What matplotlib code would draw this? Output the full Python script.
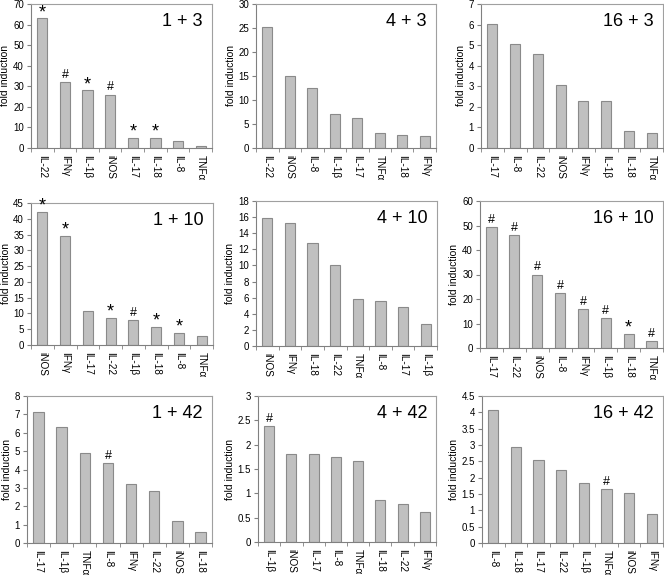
import numpy as np
import matplotlib
matplotlib.use("Agg")
from matplotlib import pyplot as plt

plt.rcParams['font.family'] = ['Liberation Sans', 'DejaVu Sans']

G = "IFN\u03b3"
B = "IL-1\u03b2"
A = "TNF\u03b1"

# panel 1 + 3
p1_names = ["IL-22", G, B, "iNOS", "IL-17", "IL-18", "IL-8", A]
p1_vals = [63, 32, 28, 26, 5, 5, 3.5, 1]
p1_marks = ["*", "#", "*", "#", "*", "*", "", ""]
# panel 4 + 3
p2_names = ["IL-22", "iNOS", "IL-8", B, "IL-17", A, "IL-18", G]
p2_vals = [25.3, 15, 12.5, 7.1, 6.3, 3.1, 2.8, 2.5]
p2_marks = [""] * 8
# panel 16 + 3
p3_names = ["IL-17", "IL-8", "IL-22", "iNOS", G, B, "IL-18", A]
p3_vals = [6.05, 5.05, 4.55, 3.05, 2.3, 2.3, 0.85, 0.75]
p3_marks = [""] * 8
# panel 1 + 10
p4_names = ["iNOS", G, "IL-17", "IL-22", B, "IL-18", "IL-8", A]
p4_vals = [42.3, 34.5, 10.8, 8.7, 8.0, 5.6, 3.8, 2.8]
p4_marks = ["*", "*", "", "*", "#", "*", "*", ""]
# panel 4 + 10
p5_names = ["iNOS", G, "IL-18", "IL-22", A, "IL-8", "IL-17", B]
p5_vals = [15.9, 15.3, 12.8, 10.0, 5.8, 5.6, 4.9, 2.7]
p5_marks = [""] * 8
# panel 16 + 10
p6_names = ["IL-17", "IL-22", "iNOS", "IL-8", G, B, "IL-18", A]
p6_vals = [49.5, 46, 30, 22.3, 16, 12.2, 5.6, 2.8]
p6_marks = ["#", "#", "#", "#", "#", "#", "*", "#"]
# panel 1 + 42
p7_names = ["IL-17", B, A, "IL-8", G, "IL-22", "iNOS", "IL-18"]
p7_vals = [7.15, 6.3, 4.9, 4.35, 3.2, 2.85, 1.2, 0.6]
p7_marks = ["", "", "", "#", "", "", "", ""]
# panel 4 + 42
p8_names = [B, "iNOS", "IL-17", "IL-8", A, "IL-18", "IL-22", G]
p8_vals = [2.38, 1.8, 1.8, 1.75, 1.67, 0.87, 0.78, 0.62]
p8_marks = ["#", "", "", "", "", "", "", ""]
# panel 16 + 42
p9_names = ["IL-8", "IL-18", "IL-17", "IL-22", B, A, "iNOS", G]
p9_vals = [4.07, 2.95, 2.53, 2.25, 1.83, 1.65, 1.52, 0.9]
p9_marks = ["", "", "", "", "", "#", "", ""]

panels = [
    ("1 + 3", p1_names, p1_vals, p1_marks, 70, 10, (31, 4, 212, 148)),
    ("4 + 3", p2_names, p2_vals, p2_marks, 30, 5, (256, 4, 436, 148)),
    ("16 + 3", p3_names, p3_vals, p3_marks, 7, 1, (481, 4, 663, 148)),
    ("1 + 10", p4_names, p4_vals, p4_marks, 45, 5, (31, 203, 213, 345)),
    ("4 + 10", p5_names, p5_vals, p5_marks, 18, 2, (256, 201, 437, 346)),
    ("16 + 10", p6_names, p6_vals, p6_marks, 60, 10, (480, 201, 663, 348)),
    ("1 + 42", p7_names, p7_vals, p7_marks, 8, 1, (27, 396, 212, 543)),
    ("4 + 42", p8_names, p8_vals, p8_marks, 3, 0.5, (258, 396, 436, 542)),
    ("16 + 42", p9_names, p9_vals, p9_marks, 4.5, 0.5, (482, 396, 663, 543)),
]

W, H = 664, 575
fig = plt.figure(figsize=(W / 100, H / 100), dpi=100)

for title, names, vals, marks, ymax, step, (l, t, r, b) in panels:
    ax = fig.add_axes([l / W, (H - b) / H, (r - l) / W, (b - t) / H])
    x = np.arange(len(names))
    ax.bar(x, vals, 0.45, color="#c0c0c0", edgecolor="#8a8a8a", linewidth=0.8)
    for xi, v, m in zip(x, vals, marks):
        if m == "*":
            ax.annotate(m, (xi, v), xytext=(0, 1), textcoords="offset points",
                        ha="center", va="baseline", fontsize=13)
        elif m == "#":
            ax.annotate(m, (xi, v), xytext=(0, 3), textcoords="offset points",
                        ha="center", va="baseline", fontsize=9)
    ax.set_xlim(-0.5, len(names) - 0.5)
    ax.set_ylim(0, ymax)
    ticks = np.arange(0, ymax + step / 2, step)
    ax.set_yticks(ticks)
    ax.set_yticklabels(["%g" % tk for tk in ticks], fontsize=7)
    ax.set_xticks(x)
    ax.set_xticklabels(names, rotation=-90, fontsize=7.2)
    ax.tick_params(axis="x", length=0, pad=5)
    ax.set_xticks(np.arange(len(names) + 1) - 0.5, minor=True)
    ax.tick_params(axis="x", which="minor", length=3, color="#808080")
    ax.tick_params(axis="y", length=3, color="#808080", pad=2)
    for s in ax.spines.values():
        s.set_color("#a0a0a0")
        s.set_linewidth(0.8)
    ax.spines["left"].set_color("#808080")
    ax.spines["bottom"].set_color("#808080")
    ax.set_ylabel("fold induction", fontsize=7.5, labelpad=2)
    ax.text(0.95, 0.88, title, transform=ax.transAxes, ha="right", va="center",
            fontsize=13)

fig.savefig("out.png", dpi=100)
